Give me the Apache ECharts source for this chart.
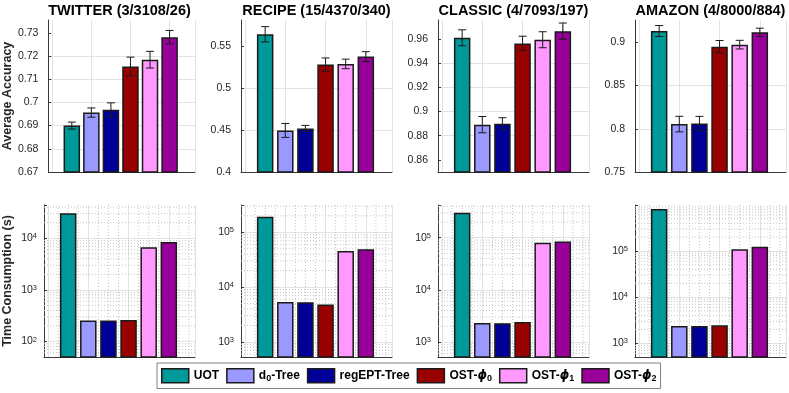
<!DOCTYPE html>
<html>
<head>
<meta charset="utf-8">
<title>Accuracy and time consumption</title>
<script src="https://cdn.jsdelivr.net/npm/echarts@6/dist/echarts.min.js"></script>
<style>
  html, body { margin: 0; padding: 0; background: #fff; }
  #chart { width: 789px; height: 393px; }
</style>
</head>
<body>
<div id="chart"></div>
<script>
// methods shown in every panel, left to right
var methods = ['UOT', 'd0-Tree', 'regEPT-Tree', 'OST-ϕ0', 'OST-ϕ1', 'OST-ϕ2'];
var datasets = ['TWITTER (3/3108/26)', 'RECIPE (15/4370/340)', 'CLASSIC (4/7093/197)', 'AMAZON (4/8000/884)'];

// average accuracy (top row) and its error bar half-length
var accTwitter = [0.690, 0.6956, 0.6968, 0.7155, 0.7184, 0.7281];
var errTwitter = [0.0015, 0.0020, 0.0030, 0.0040, 0.0036, 0.0029];
var accRecipe = [0.564, 0.4495, 0.4519, 0.5279, 0.5287, 0.5374];
var errRecipe = [0.0091, 0.0083, 0.0036, 0.0079, 0.0057, 0.0059];
var accClassic = [0.9608, 0.8891, 0.8899, 0.9562, 0.9592, 0.9663];
var errClassic = [0.0066, 0.0067, 0.0049, 0.0059, 0.0066, 0.0067];
var accAmazon = [0.9131, 0.8054, 0.8062, 0.8950, 0.8973, 0.9115];
var errAmazon = [0.0063, 0.0090, 0.0081, 0.0071, 0.0050, 0.0048];

// time consumption in seconds (bottom row, log scale)
var timeTwitter = [30400, 255, 255, 260, 6700, 8480];
var timeRecipe = [193000, 5320, 5300, 4830, 45500, 49000];
var timeClassic = [302000, 2320, 2300, 2430, 80000, 85000];
var timeAmazon = [806000, 2380, 2360, 2450, 109000, 124000];

// axis limits and tick labels
var accTicks = [
  [0.67, 0.68, 0.69, 0.7, 0.71, 0.72, 0.73],
  [0.4, 0.45, 0.5, 0.55],
  [0.86, 0.88, 0.9, 0.92, 0.94, 0.96],
  [0.75, 0.8, 0.85, 0.9]
];
var accMin = [0.67, 0.4, 0.85, 0.75];
var accMax = [0.7355, 0.581, 0.9755, 0.9258];
var timeMin = [50, 530, 515, 505];
var timeMax = [44000, 315000, 425000, 990000];
var xTicks = [0, 2, 4, 6, 7.3];

var acc = [accTwitter, accRecipe, accClassic, accAmazon];
var err = [errTwitter, errRecipe, errClassic, errAmazon];
var time = [timeTwitter, timeRecipe, timeClassic, timeAmazon];

var colors = ['#009999', '#9999ff', '#000099', '#990000', '#ff99ff', '#990099'];
var font = 'Liberation Sans';
var axisColor = '#3a3a3a';
var gridColor = '#e3e3e3';
var minorColor = '#c4c4c4';
var lefts = [44, 241, 438, 635];
var plotW = 151;

var chart = echarts.init(document.getElementById('chart'));

function renderErr(params, api) {
  var x = api.value(0), v = api.value(1), e = api.value(2);
  var hi = api.coord([x, v + e]);
  var lo = api.coord([x, v - e]);
  var st = { stroke: '#1a1a1a', lineWidth: 1 };
  return {
    type: 'group',
    children: [
      { type: 'line', shape: { x1: hi[0], y1: hi[1], x2: lo[0], y2: lo[1] }, style: st },
      { type: 'line', shape: { x1: hi[0] - 4, y1: hi[1], x2: hi[0] + 4, y2: hi[1] }, style: st },
      { type: 'line', shape: { x1: lo[0] - 4, y1: lo[1], x2: lo[0] + 4, y2: lo[1] }, style: st }
    ]
  };
}

// dotted minor grid (log decades split at 2..9, x at halves)
function renderMinorH(params, api) {
  var cs = params.coordSys;
  var y = api.coord([0, api.value(1)])[1];
  return { type: 'line', shape: { x1: cs.x, y1: y, x2: cs.x + cs.width, y2: y },
    style: { stroke: minorColor, lineWidth: 1, lineDash: [1, 2] } };
}
function renderMinorV(params, api) {
  var cs = params.coordSys;
  var x = api.coord([api.value(0), api.value(1)])[0];
  return { type: 'line', shape: { x1: x, y1: cs.y, x2: x, y2: cs.y + cs.height },
    style: { stroke: minorColor, lineWidth: 1, lineDash: [1, 2] } };
}

function logLabel(v) {
  var e = Math.log10(v);
  var r = Math.round(e);
  if (Math.abs(e - r) > 1e-6) return '';
  return '{b|10}{sup|' + r + '}';
}

var grids = [], xAxes = [], yAxes = [], series = [], titles = [];

for (var g = 0; g < 8; g++) {
  var p = g % 4;
  var isTime = g >= 4;
  grids.push({ left: lefts[p], top: isTime ? 205 : 20, width: plotW, height: 152 });
  xAxes.push({
    type: 'value', gridIndex: g, min: -0.2, max: 7.3,
    axisLine: { onZero: false, lineStyle: { color: axisColor, width: 1 } },
    axisTick: { show: false, customValues: xTicks },
    axisLabel: { show: false, customValues: xTicks },
    splitLine: { show: true, lineStyle: { color: gridColor, width: 1 } }
  });
  var y = {
    gridIndex: g,
    axisLine: { show: true, onZero: false, lineStyle: { color: axisColor, width: 1 } },
    axisTick: { show: true, inside: true, length: 3, lineStyle: { color: axisColor } },
    splitLine: { show: true, showMinLine: false, showMaxLine: false, lineStyle: { color: gridColor, width: 1 } },
    axisLabel: { fontFamily: font, fontSize: 10.5, color: '#262626' }
  };
  if (isTime) {
    y.type = 'log';
    y.logBase = 10;
    y.min = timeMin[p];
    y.max = timeMax[p];
    y.axisLabel.margin = 7;
    y.axisLabel.formatter = logLabel;
    y.axisLabel.rich = {
      b: { fontFamily: font, fontSize: 10.5, color: '#262626', lineHeight: 12 },
      sup: { fontFamily: font, fontSize: 7.5, color: '#262626', lineHeight: 4, verticalAlign: 'top' }
    };
  } else {
    y.type = 'value';
    y.min = accMin[p];
    y.max = accMax[p];
    y.axisTick.customValues = accTicks[p];
    y.axisLabel.customValues = accTicks[p];
    y.axisLabel.margin = 10;
    y.axisLabel.formatter = function (v) { return String(+v.toFixed(4)); };
  }
  if (p === 0) {
    y.name = isTime ? 'Time Consumption (s)' : 'Average Accuracy';
    y.nameLocation = 'middle';
    y.nameRotate = 90;
    y.nameGap = 30;
    y.nameTextStyle = { fontFamily: font, fontSize: 12.5, fontWeight: 'bold', color: '#262626' };
  }
  yAxes.push(y);

  var vals = isTime ? time[p] : acc[p];
  for (var i = 0; i < methods.length; i++) {
    series.push({
      name: methods[i], type: 'bar', xAxisIndex: g, yAxisIndex: g,
      barWidth: 16.5, barGap: '-100%', clip: true,
      itemStyle: { color: colors[i], borderColor: '#1a1a1a', borderWidth: 1.5 },
      data: [[i + 1, vals[i]]]
    });
  }

  if (!isTime) {
    var ed = [];
    for (var k = 0; k < methods.length; k++) ed.push([k + 1, acc[p][k], err[p][k]]);
    series.push({
      name: 'err' + g, type: 'custom', xAxisIndex: g, yAxisIndex: g, z: 5,
      renderItem: renderErr, encode: { x: 0, y: 1 }, data: ed
    });
  } else {
    var mh = [];
    for (var d = Math.floor(Math.log10(timeMin[p])); d <= Math.ceil(Math.log10(timeMax[p])); d++) {
      for (var m = 2; m <= 9; m++) {
        var mv = m * Math.pow(10, d);
        if (mv > timeMin[p] && mv < timeMax[p]) mh.push([0, mv]);
      }
    }
    series.push({
      name: 'minorH' + g, type: 'custom', xAxisIndex: g, yAxisIndex: g, z: 1, silent: true,
      renderItem: renderMinorH, encode: { x: 0, y: 1 }, data: mh
    });
    var mvx = [0.5, 1, 1.5, 2.5, 3, 3.5, 4.5, 5, 5.5, 6.5, 7];
    series.push({
      name: 'minorV' + g, type: 'custom', xAxisIndex: g, yAxisIndex: g, z: 1, silent: true,
      renderItem: renderMinorV, encode: { x: 0, y: 1 },
      data: mvx.map(function (x) { return [x, timeMin[p] * 1.01]; })
    });
  }
}

for (var t = 0; t < 4; t++) {
  titles.push({
    text: datasets[t], left: lefts[t] + plotW / 2, top: 3, textAlign: 'center', padding: 0,
    textStyle: { fontFamily: font, fontSize: 14.5, fontWeight: 'bold', color: '#000' }
  });
}

var legendRich = {
  sub: { fontFamily: font, fontSize: 9, fontWeight: 'bold', color: '#000', lineHeight: 5, verticalAlign: 'bottom' },
  phi: { fontFamily: 'DejaVu Sans', fontSize: 12, fontStyle: 'italic', fontWeight: 'bold', color: '#000' }
};

chart.setOption({
  animation: false,
  backgroundColor: '#fff',
  title: titles,
  grid: grids,
  xAxis: xAxes,
  yAxis: yAxes,
  legend: {
    data: methods, left: 157, top: 363, itemWidth: 27, itemHeight: 14, itemGap: 7,
    padding: [5, 4, 5, 4], borderColor: '#808080', borderWidth: 1, selectedMode: false, icon: 'rect',
    itemStyle: { borderColor: '#1a1a1a', borderWidth: 1.5 },
    textStyle: { fontFamily: font, fontSize: 12, fontWeight: 'bold', color: '#000', lineHeight: 14, rich: legendRich },
    formatter: function (name) {
      if (name === 'd0-Tree') return 'd{sub|0}-Tree';
      if (name.indexOf('OST-') === 0) return 'OST-{phi|ϕ}{sub|' + name.slice(5) + '}';
      return name;
    }
  },
  series: series
});
</script>
</body>
</html>
